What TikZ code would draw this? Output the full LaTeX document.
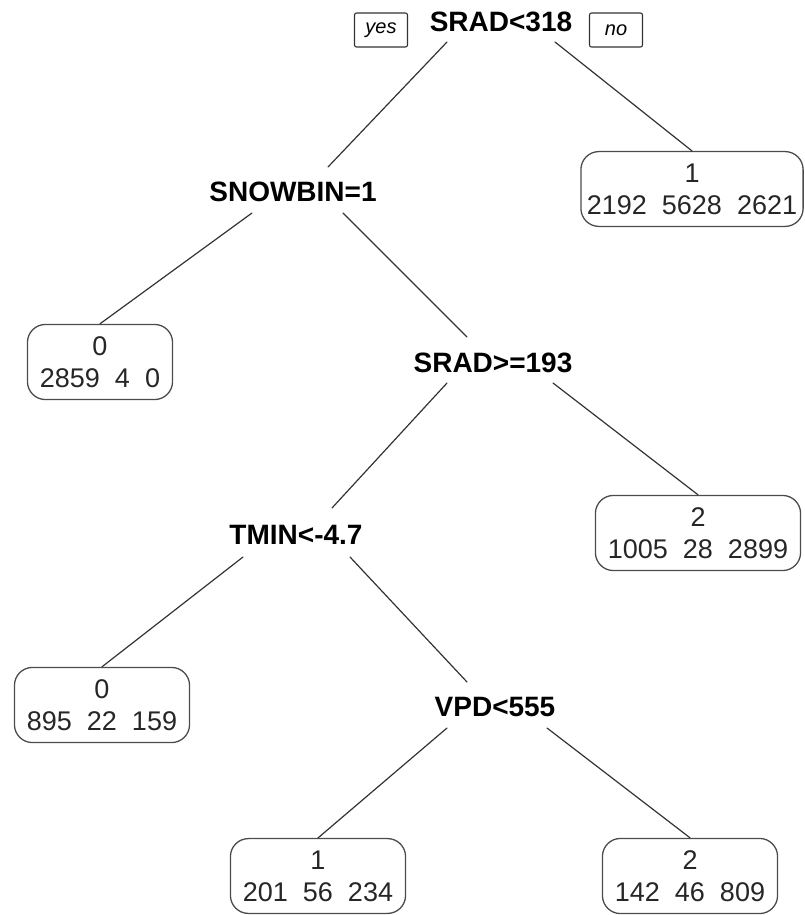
\documentclass[tikz,border=0pt]{standalone}
\usepackage{fontspec}
\setmainfont{Liberation Sans}
\usetikzlibrary{calc}

\begin{document}
\begin{tikzpicture}[x=1pt,y=-1pt,line cap=round,
  split/.style={font=\fontsize{28}{30}\selectfont\bfseries,inner sep=0pt},
  leaf/.style={draw=black!70,line width=1.3pt,rounded corners=18pt,align=center,
    text=black!85,font=\fontsize{27}{32}\selectfont,inner xsep=12.5pt,inner ysep=12pt},
  tag/.style={draw=black!80,line width=1.1pt,rounded corners=2pt,
    font=\fontsize{20}{22}\selectfont\itshape,minimum width=53pt,minimum height=34pt,inner sep=0pt},
  branch/.style={black!80,line width=1.2pt}]
  \useasboundingbox (0,0) rectangle (804,915);
  % split labels
  \node[split] (root) at (501,22) {SRAD<318};
  \node[split] (snow) at (293,192) {SNOWBIN=1};
  \node[split] (srad) at (493,363) {SRAD>=193};
  \node[split] (tmin) at (296,535) {TMIN<-4.7};
  \node[split] (vpd) at (495,707) {VPD<555};
  \node[tag] (yes) at (381,30) {yes};
  \node[tag] (no) at (616,30) {no};
  % leaves: class, then counts
  \node[leaf,inner xsep=6pt] (leafA) at (692,189) {1\\2192\ \ 5628\ \ 2621};
  \node[leaf] (leafB) at (100,362) {0\\2859\ \ 4\ \ 0};
  \node[leaf] (leafC) at (698,533) {2\\1005\ \ 28\ \ 2899};
  \node[leaf] (leafD) at (102,705) {0\\895\ \ 22\ \ 159};
  \node[leaf] (leafE) at (318,876) {1\\201\ \ 56\ \ 234};
  \node[leaf] (leafF) at (690,876) {2\\142\ \ 46\ \ 809};
  % branches between splits
  \foreach \p/\px/\py/\c/\cx/\cy in {root/-54/20/snow/35/-25,
    snow/50/21/srad/-26/-26, srad/-46/20/tmin/36/-27, tmin/54/22/vpd/-28/-25}
    \draw[branch] ($(\p)+(\px,\py)$) -- ($(\c)+(\cx,\cy)$);
  % branches to leaves
  \foreach \p/\px/\py/\c in {root/54/20/leafA, snow/-41/21/leafB,
    srad/60/20/leafC, tmin/-53/22/leafD, vpd/-48/21/leafE, vpd/52/21/leafF}
    \draw[branch] ($(\p)+(\px,\py)$) -- (\c.north);
\end{tikzpicture}
\end{document}
